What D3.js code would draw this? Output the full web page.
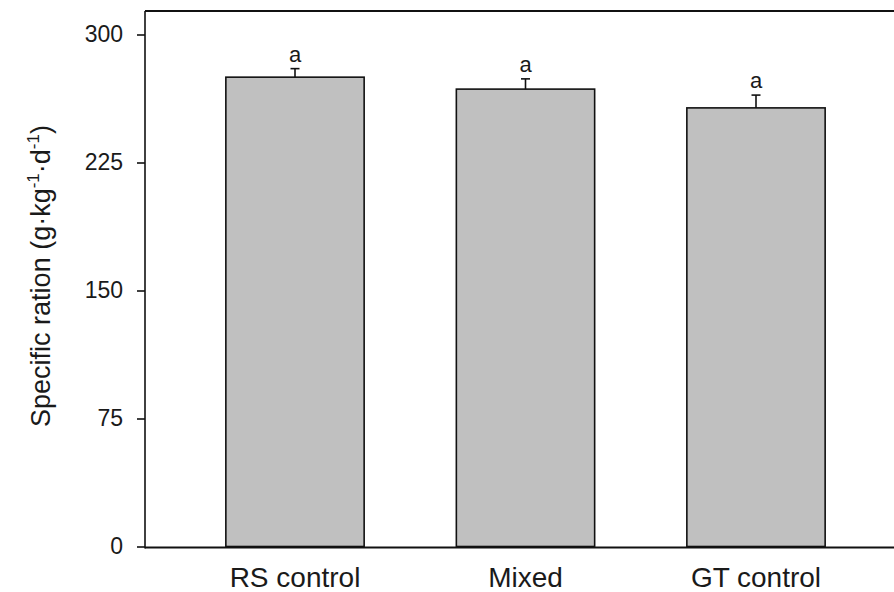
<!DOCTYPE html>
<html>
<head>
<meta charset="utf-8">
<script src="https://cdn.jsdelivr.net/npm/d3@7"></script>
<style>
  html, body { margin: 0; padding: 0; background: #ffffff; }
  svg { display: block; }
  text { font-family: "Liberation Sans", Arial, sans-serif; fill: #1a1a1a; }
</style>
</head>
<body>
<svg id="chart" width="894" height="592"></svg>
<script>
// Treatment groups and their mean specific ration with standard errors
const categories = ["RS control", "Mixed", "GT control"];
const means = [275, 268, 257];
const errors = [5, 6, 7.5];
const letters = ["a", "a", "a"];
const yTicks = [0, 75, 150, 225, 300];

const width = 894, height = 592;
const frame = { left: 145, right: 900, top: 11, bottom: 547.5 };

const svg = d3.select("#chart");
svg.append("rect").attr("width", width).attr("height", height).attr("fill", "#fff");

const x = d3.scaleBand()
  .domain(categories)
  .range([179.75, 871.25])
  .paddingInner(0.4)
  .paddingOuter(0.2);

const y = d3.scaleLinear()
  .domain([0, 300])
  .range([546.5, 34.5]);

// Bars
svg.append("g").selectAll("rect")
  .data(categories)
  .join("rect")
  .attr("x", d => x(d))
  .attr("y", (d, i) => y(means[i]))
  .attr("width", x.bandwidth())
  .attr("height", (d, i) => y(0) - y(means[i]))
  .attr("fill", "#c0c0c0")
  .attr("stroke", "#111")
  .attr("stroke-width", 1.6);

// Upper error bars with caps
const eb = svg.append("g").attr("stroke", "#111").attr("stroke-width", 1.6);
categories.forEach((c, i) => {
  const cx = x(c) + x.bandwidth() / 2;
  eb.append("line")
    .attr("x1", cx).attr("x2", cx)
    .attr("y1", y(means[i])).attr("y2", y(means[i] + errors[i]));
  eb.append("line")
    .attr("x1", cx - 4.5).attr("x2", cx + 4.5)
    .attr("y1", y(means[i] + errors[i])).attr("y2", y(means[i] + errors[i]));
});

// Significance letters
svg.append("g").selectAll("text")
  .data(categories)
  .join("text")
  .attr("x", d => x(d) + x.bandwidth() / 2)
  .attr("y", (d, i) => y(means[i] + errors[i]) - 7)
  .attr("text-anchor", "middle")
  .attr("font-size", 22)
  .text((d, i) => letters[i]);

// Frame: top and bottom lines extend past the right edge
svg.append("line")
  .attr("x1", frame.left).attr("x2", frame.right)
  .attr("y1", frame.top).attr("y2", frame.top)
  .attr("stroke", "#111").attr("stroke-width", 2);
svg.append("line")
  .attr("x1", frame.left).attr("x2", frame.right)
  .attr("y1", frame.bottom).attr("y2", frame.bottom)
  .attr("stroke", "#111").attr("stroke-width", 2.2);

// Y axis
const yAxis = svg.append("g")
  .attr("transform", `translate(${frame.left},0)`)
  .call(d3.axisLeft(y).tickValues(yTicks).tickSize(8).tickPadding(14).tickFormat(d3.format("d")));
yAxis.select(".domain").remove();
yAxis.selectAll(".tick line").attr("stroke", "#111").attr("stroke-width", 1.6);
yAxis.selectAll(".tick text")
  .attr("font-size", 23)
  .attr("font-family", "'Liberation Sans', Arial, sans-serif")
  .attr("fill", "#1a1a1a");
svg.append("line")
  .attr("x1", frame.left).attr("x2", frame.left)
  .attr("y1", frame.top).attr("y2", frame.bottom + 1)
  .attr("stroke", "#111").attr("stroke-width", 1.6);

// X category labels
svg.append("g").selectAll("text")
  .data(categories)
  .join("text")
  .attr("x", d => x(d) + x.bandwidth() / 2)
  .attr("y", 587)
  .attr("text-anchor", "middle")
  .attr("font-size", 28)
  .text(d => d);

// Y axis title with superscripts
const yt = svg.append("text")
  .attr("transform", "translate(50,276) rotate(-90)")
  .attr("text-anchor", "middle")
  .attr("font-size", 27);
yt.append("tspan").text("Specific ration (g\u00B7kg");
yt.append("tspan").attr("font-size", 17).attr("dy", -11).text("-1");
yt.append("tspan").attr("dy", 11).text("\u00B7d");
yt.append("tspan").attr("font-size", 17).attr("dy", -11).text("-1");
yt.append("tspan").attr("dy", 11).text(")");
</script>
</body>
</html>
